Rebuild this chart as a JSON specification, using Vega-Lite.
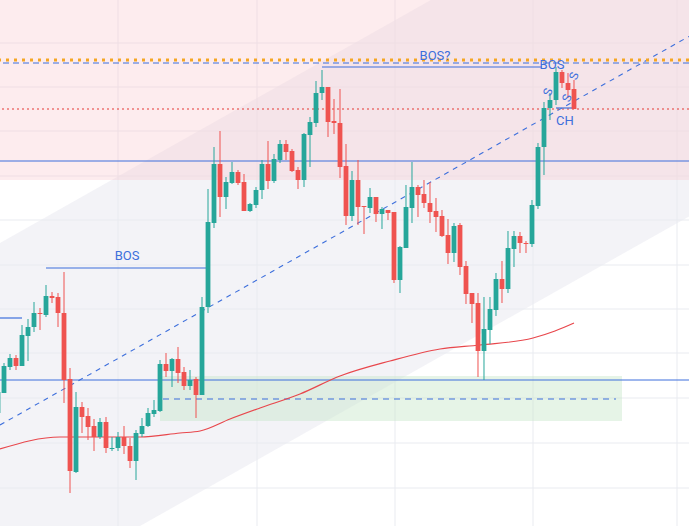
{
  "$schema": "https://vega.github.io/schema/vega-lite/v6.json",
  "width": 689,
  "height": 526,
  "padding": 0,
  "autosize": {"type": "fit", "contains": "padding"},
  "background": "white",
  "config": {"view": {"stroke": null}, "scale": {"continuousPadding": 0}},
  "datasets": {
    "candles": [
      {"i": -1, "o": 113, "h": 138, "l": 106, "c": 134},
      {"i": 0, "o": 133, "h": 163, "l": 133, "c": 160},
      {"i": 1, "o": 159, "h": 172, "l": 156, "c": 168},
      {"i": 2, "o": 168, "h": 171, "l": 156, "c": 160},
      {"i": 3, "o": 160, "h": 201, "l": 160, "c": 191},
      {"i": 4, "o": 190, "h": 207, "l": 165, "c": 199},
      {"i": 5, "o": 199, "h": 224, "l": 194, "c": 213},
      {"i": 6, "o": 213, "h": 218, "l": 196, "c": 212},
      {"i": 7, "o": 211, "h": 241, "l": 209, "c": 230},
      {"i": 8, "o": 230, "h": 234, "l": 223, "c": 228},
      {"i": 9, "o": 229, "h": 233, "l": 199, "c": 213},
      {"i": 10, "o": 213, "h": 254, "l": 123, "c": 146},
      {"i": 11, "o": 147, "h": 158, "l": 33, "c": 55},
      {"i": 12, "o": 54, "h": 134, "l": 53, "c": 119},
      {"i": 13, "o": 119, "h": 124, "l": 93, "c": 109},
      {"i": 14, "o": 110, "h": 118, "l": 86, "c": 99},
      {"i": 15, "o": 100, "h": 107, "l": 75, "c": 89},
      {"i": 16, "o": 89, "h": 108, "l": 87, "c": 104},
      {"i": 17, "o": 104, "h": 109, "l": 73, "c": 78},
      {"i": 18, "o": 77, "h": 89, "l": 75, "c": 78},
      {"i": 19, "o": 78, "h": 94, "l": 75, "c": 89},
      {"i": 20, "o": 89, "h": 100, "l": 72, "c": 80},
      {"i": 21, "o": 80, "h": 88, "l": 58, "c": 65},
      {"i": 22, "o": 65, "h": 96, "l": 46, "c": 93},
      {"i": 23, "o": 92, "h": 108, "l": 89, "c": 100},
      {"i": 24, "o": 100, "h": 118, "l": 99, "c": 113},
      {"i": 25, "o": 112, "h": 126, "l": 109, "c": 116},
      {"i": 26, "o": 115, "h": 166, "l": 114, "c": 162},
      {"i": 27, "o": 162, "h": 173, "l": 149, "c": 155},
      {"i": 28, "o": 155, "h": 168, "l": 139, "c": 167},
      {"i": 29, "o": 167, "h": 179, "l": 143, "c": 153},
      {"i": 30, "o": 154, "h": 159, "l": 136, "c": 140},
      {"i": 31, "o": 140, "h": 156, "l": 136, "c": 146},
      {"i": 32, "o": 147, "h": 149, "l": 108, "c": 131},
      {"i": 33, "o": 131, "h": 229, "l": 131, "c": 219},
      {"i": 34, "o": 219, "h": 337, "l": 213, "c": 304},
      {"i": 35, "o": 303, "h": 379, "l": 298, "c": 362},
      {"i": 36, "o": 362, "h": 395, "l": 309, "c": 329},
      {"i": 37, "o": 329, "h": 349, "l": 317, "c": 344},
      {"i": 38, "o": 343, "h": 364, "l": 342, "c": 354},
      {"i": 39, "o": 354, "h": 356, "l": 341, "c": 343},
      {"i": 40, "o": 344, "h": 352, "l": 315, "c": 315},
      {"i": 41, "o": 315, "h": 323, "l": 314, "c": 322},
      {"i": 42, "o": 321, "h": 339, "l": 318, "c": 336},
      {"i": 43, "o": 336, "h": 366, "l": 327, "c": 362},
      {"i": 44, "o": 362, "h": 385, "l": 337, "c": 345},
      {"i": 45, "o": 345, "h": 372, "l": 343, "c": 367},
      {"i": 46, "o": 366, "h": 386, "l": 363, "c": 382},
      {"i": 47, "o": 382, "h": 386, "l": 366, "c": 374},
      {"i": 48, "o": 375, "h": 377, "l": 354, "c": 355},
      {"i": 49, "o": 356, "h": 359, "l": 337, "c": 346},
      {"i": 50, "o": 346, "h": 393, "l": 339, "c": 392},
      {"i": 51, "o": 391, "h": 409, "l": 359, "c": 404},
      {"i": 52, "o": 403, "h": 445, "l": 399, "c": 433},
      {"i": 53, "o": 433, "h": 456, "l": 426, "c": 439},
      {"i": 54, "o": 439, "h": 439, "l": 389, "c": 404},
      {"i": 55, "o": 405, "h": 427, "l": 392, "c": 403},
      {"i": 56, "o": 403, "h": 437, "l": 348, "c": 359},
      {"i": 57, "o": 360, "h": 382, "l": 301, "c": 310},
      {"i": 58, "o": 310, "h": 355, "l": 305, "c": 346},
      {"i": 59, "o": 346, "h": 366, "l": 301, "c": 319},
      {"i": 60, "o": 320, "h": 320, "l": 292, "c": 319},
      {"i": 61, "o": 318, "h": 338, "l": 313, "c": 329},
      {"i": 62, "o": 329, "h": 329, "l": 304, "c": 312},
      {"i": 63, "o": 312, "h": 319, "l": 297, "c": 317},
      {"i": 64, "o": 316, "h": 316, "l": 306, "c": 313},
      {"i": 65, "o": 314, "h": 314, "l": 243, "c": 246},
      {"i": 66, "o": 246, "h": 280, "l": 233, "c": 279},
      {"i": 67, "o": 278, "h": 341, "l": 278, "c": 319},
      {"i": 68, "o": 318, "h": 364, "l": 303, "c": 339},
      {"i": 69, "o": 339, "h": 341, "l": 309, "c": 331},
      {"i": 70, "o": 332, "h": 346, "l": 318, "c": 323},
      {"i": 71, "o": 323, "h": 344, "l": 303, "c": 314},
      {"i": 72, "o": 315, "h": 328, "l": 294, "c": 309},
      {"i": 73, "o": 310, "h": 316, "l": 289, "c": 290},
      {"i": 74, "o": 291, "h": 307, "l": 262, "c": 273},
      {"i": 75, "o": 273, "h": 303, "l": 264, "c": 300},
      {"i": 76, "o": 301, "h": 303, "l": 251, "c": 259},
      {"i": 77, "o": 260, "h": 265, "l": 222, "c": 232},
      {"i": 78, "o": 233, "h": 233, "l": 203, "c": 222},
      {"i": 79, "o": 223, "h": 233, "l": 149, "c": 175},
      {"i": 80, "o": 175, "h": 229, "l": 146, "c": 197},
      {"i": 81, "o": 196, "h": 229, "l": 182, "c": 217},
      {"i": 82, "o": 216, "h": 253, "l": 210, "c": 247},
      {"i": 83, "o": 247, "h": 265, "l": 223, "c": 237},
      {"i": 84, "o": 237, "h": 295, "l": 233, "c": 278},
      {"i": 85, "o": 277, "h": 295, "l": 259, "c": 290},
      {"i": 86, "o": 290, "h": 294, "l": 273, "c": 283},
      {"i": 87, "o": 283, "h": 285, "l": 273, "c": 282},
      {"i": 88, "o": 282, "h": 326, "l": 279, "c": 321},
      {"i": 89, "o": 320, "h": 383, "l": 317, "c": 379},
      {"i": 90, "o": 379, "h": 424, "l": 351, "c": 418},
      {"i": 91, "o": 418, "h": 433, "l": 406, "c": 426},
      {"i": 92, "o": 426, "h": 459, "l": 421, "c": 454},
      {"i": 93, "o": 454, "h": 456, "l": 438, "c": 443},
      {"i": 94, "o": 443, "h": 453, "l": 428, "c": 436},
      {"i": 95, "o": 437, "h": 446, "l": 417, "c": 417}
    ],
    "ma": [
      {"i": -0.6667, "p": 77}, {"i": 9.33, "p": 89}, {"i": 22.67, "p": 89},
      {"i": 29.33, "p": 93}, {"i": 32.67, "p": 95}, {"i": 37.67, "p": 107},
      {"i": 42.67, "p": 118}, {"i": 49.33, "p": 132}, {"i": 56, "p": 150},
      {"i": 64.33, "p": 165}, {"i": 72.67, "p": 177}, {"i": 79.33, "p": 181},
      {"i": 88.17, "p": 188}, {"i": 91.83, "p": 195}, {"i": 95, "p": 203}
    ],
    "grid": [
      {"dir": "v", "v": 19}, {"dir": "v", "v": 42.17}, {"dir": "v", "v": 65.17},
      {"dir": "v", "v": 88.17}, {"dir": "v", "v": 112.17},
      {"dir": "h", "v": 483}, {"dir": "h", "v": 439}, {"dir": "h", "v": 395},
      {"dir": "h", "v": 350}, {"dir": "h", "v": 306}, {"dir": "h", "v": 261},
      {"dir": "h", "v": 217}, {"dir": "h", "v": 173}, {"dir": "h", "v": 128},
      {"dir": "h", "v": 83}, {"dir": "h", "v": 38}
    ],
    "levels": [
      {"kind": "orange", "p": 466},
      {"kind": "bluedash", "p": 463},
      {"kind": "reddot", "p": 417},
      {"kind": "blue", "p": 365},
      {"kind": "blue", "p": 146}
    ],
    "segs": [
      {"kind": "bos", "i": 53, "i2": 89.67, "p": 459},
      {"kind": "bos", "i": 7, "i2": 33.67, "p": 258},
      {"kind": "bos", "i": -0.6667, "i2": 3, "p": 208},
      {"kind": "bos", "i": 92, "i2": 95, "p": 418},
      {"kind": "gdash", "i": 26.5, "i2": 102, "p": 127}
    ],
    "zones": [
      {"kind": "pink", "i": -0.6667, "i2": 114.1667, "p": 346, "p2": 526},
      {"kind": "green", "i": 26, "i2": 103, "p": 105, "p2": 150}
    ],
    "channel": [
      {"i": -0.6667, "lo": -79, "hi": 283},
      {"i": 114.1667, "lo": 309.6, "hi": 671.6}
    ],
    "labels": [
      {"kind": "flat", "t": "BOS", "i": 20.5, "p": 270},
      {"kind": "flat", "t": "BOS?", "i": 71.83, "p": 470},
      {"kind": "flat", "t": "BOS", "i": 91.33, "p": 461},
      {"kind": "flat", "t": "CH", "i": 93.5, "p": 405},
      {"kind": "turned", "t": "S", "i": 95, "p": 450},
      {"kind": "turned", "t": "S", "i": 90.67, "p": 434},
      {"kind": "turned", "t": "S", "i": 93.83, "p": 428}
    ]
  },
  "layer": [
    {
      "data": {"name": "channel"},
      "mark": {"type": "area", "color": "#e4e5ee", "opacity": 0.45, "clip": true},
      "encoding": {
        "x": {"field": "i", "type": "quantitative", "scale": {"domain": [-0.6667, 114.1667], "nice": false, "zero": false, "padding": 0}, "axis": null},
        "y": {"field": "lo", "type": "quantitative", "scale": {"domain": [0, 526], "nice": false, "zero": false}, "axis": null},
        "y2": {"field": "hi"}
      }
    },
    {
      "data": {"name": "grid"},
      "transform": [{"filter": "datum.dir == 'v'"}],
      "mark": {"type": "rule", "color": "#e9ebf0", "strokeWidth": 1, "clip": true},
      "encoding": {
        "x": {"field": "v", "type": "quantitative", "scale": {"domain": [-0.6667, 114.1667], "nice": false, "zero": false, "padding": 0}, "axis": null}
      }
    },
    {
      "data": {"name": "grid"},
      "transform": [{"filter": "datum.dir == 'h'"}],
      "mark": {"type": "rule", "color": "#e9ebf0", "strokeWidth": 1, "clip": true},
      "encoding": {
        "y": {"field": "v", "type": "quantitative", "scale": {"domain": [0, 526], "nice": false, "zero": false}, "axis": null}
      }
    },
    {
      "data": {"name": "zones"},
      "transform": [{"filter": "datum.kind == 'pink'"}],
      "mark": {"type": "rect", "color": "#f8c8cf", "opacity": 0.35, "clip": true},
      "encoding": {
        "x": {"field": "i", "type": "quantitative", "scale": {"domain": [-0.6667, 114.1667], "nice": false, "zero": false, "padding": 0}, "axis": null},
        "x2": {"field": "i2"},
        "y": {"field": "p", "type": "quantitative", "scale": {"domain": [0, 526], "nice": false, "zero": false}, "axis": null},
        "y2": {"field": "p2"}
      }
    },
    {
      "data": {"name": "zones"},
      "transform": [{"filter": "datum.kind == 'green'"}],
      "mark": {"type": "rect", "color": "#c8e6c9", "opacity": 0.45},
      "encoding": {
        "x": {"field": "i", "type": "quantitative", "scale": {"domain": [-0.6667, 114.1667], "nice": false, "zero": false, "padding": 0}, "axis": null},
        "x2": {"field": "i2"},
        "y": {"field": "p", "type": "quantitative", "scale": {"domain": [0, 526], "nice": false, "zero": false}, "axis": null},
        "y2": {"field": "p2"}
      }
    },
    {
      "data": {"values": [{"i": -0.6667, "i2": 114.1667, "p": 101, "p2": 489.6}]},
      "mark": {"type": "rule", "color": "#3d6fdc", "strokeWidth": 1.1, "strokeDash": [5, 5], "clip": true},
      "encoding": {
        "x": {"field": "i", "type": "quantitative", "scale": {"domain": [-0.6667, 114.1667], "nice": false, "zero": false, "padding": 0}, "axis": null},
        "x2": {"field": "i2"},
        "y": {"field": "p", "type": "quantitative", "scale": {"domain": [0, 526], "nice": false, "zero": false}, "axis": null},
        "y2": {"field": "p2"}
      }
    },
    {
      "data": {"name": "levels"},
      "transform": [{"filter": "datum.kind == 'blue'"}],
      "mark": {"type": "rule", "color": "#3d6fdc", "strokeWidth": 1, "clip": true},
      "encoding": {
        "y": {"field": "p", "type": "quantitative", "scale": {"domain": [0, 526], "nice": false, "zero": false}, "axis": null}
      }
    },
    {
      "data": {"name": "levels"},
      "transform": [{"filter": "datum.kind == 'reddot'"}],
      "mark": {"type": "rule", "color": "#e53935", "strokeWidth": 1.1, "strokeDash": [2, 3], "clip": true},
      "encoding": {
        "y": {"field": "p", "type": "quantitative", "scale": {"domain": [0, 526], "nice": false, "zero": false}, "axis": null}
      }
    },
    {
      "data": {"name": "levels"},
      "transform": [{"filter": "datum.kind == 'bluedash'"}],
      "mark": {"type": "rule", "color": "#3d6fdc", "strokeWidth": 1.2, "strokeDash": [6, 4], "clip": true},
      "encoding": {
        "y": {"field": "p", "type": "quantitative", "scale": {"domain": [0, 526], "nice": false, "zero": false}, "axis": null}
      }
    },
    {
      "data": {"name": "levels"},
      "transform": [{"filter": "datum.kind == 'orange'"}],
      "mark": {"type": "rule", "color": "#f5a623", "strokeWidth": 3, "strokeDash": [3, 5], "clip": true},
      "encoding": {
        "y": {"field": "p", "type": "quantitative", "scale": {"domain": [0, 526], "nice": false, "zero": false}, "axis": null}
      }
    },
    {
      "data": {"name": "segs"},
      "transform": [{"filter": "datum.kind == 'bos'"}],
      "mark": {"type": "rule", "color": "#3d6fdc", "strokeWidth": 1.2, "clip": true},
      "encoding": {
        "x": {"field": "i", "type": "quantitative", "scale": {"domain": [-0.6667, 114.1667], "nice": false, "zero": false, "padding": 0}, "axis": null},
        "x2": {"field": "i2"},
        "y": {"field": "p", "type": "quantitative", "scale": {"domain": [0, 526], "nice": false, "zero": false}, "axis": null}
      }
    },
    {
      "data": {"name": "segs"},
      "transform": [{"filter": "datum.kind == 'gdash'"}],
      "mark": {"type": "rule", "color": "#3d6fdc", "strokeWidth": 1.1, "strokeDash": [6, 5]},
      "encoding": {
        "x": {"field": "i", "type": "quantitative", "scale": {"domain": [-0.6667, 114.1667], "nice": false, "zero": false, "padding": 0}, "axis": null},
        "x2": {"field": "i2"},
        "y": {"field": "p", "type": "quantitative", "scale": {"domain": [0, 526], "nice": false, "zero": false}, "axis": null}
      }
    },
    {
      "data": {"name": "ma"},
      "mark": {"type": "line", "color": "#e8474c", "strokeWidth": 1.2, "interpolate": "monotone", "clip": true},
      "encoding": {
        "x": {"field": "i", "type": "quantitative", "scale": {"domain": [-0.6667, 114.1667], "nice": false, "zero": false, "padding": 0}, "axis": null},
        "y": {"field": "p", "type": "quantitative", "scale": {"domain": [0, 526], "nice": false, "zero": false}, "axis": null}
      }
    },
    {
      "data": {"name": "candles"},
      "mark": {"type": "rule", "strokeWidth": 1, "clip": true},
      "encoding": {
        "x": {"field": "i", "type": "quantitative", "scale": {"domain": [-0.6667, 114.1667], "nice": false, "zero": false, "padding": 0}, "axis": null},
        "y": {"field": "l", "type": "quantitative", "scale": {"domain": [0, 526], "nice": false, "zero": false}, "axis": null},
        "y2": {"field": "h"},
        "color": {"condition": {"test": "datum.c >= datum.o", "value": "#26a69a"}, "value": "#ef5350"}
      }
    },
    {
      "data": {"name": "candles"},
      "mark": {"type": "bar", "size": 4.8, "clip": true},
      "encoding": {
        "x": {"field": "i", "type": "quantitative", "scale": {"domain": [-0.6667, 114.1667], "nice": false, "zero": false, "padding": 0}, "axis": null},
        "y": {"field": "o", "type": "quantitative", "scale": {"domain": [0, 526], "nice": false, "zero": false}, "axis": null},
        "y2": {"field": "c"},
        "color": {"condition": {"test": "datum.c >= datum.o", "value": "#26a69a"}, "value": "#ef5350"}
      }
    },
    {
      "data": {"name": "labels"},
      "transform": [{"filter": "datum.kind == 'flat'"}],
      "mark": {"type": "text", "color": "#3d6fdc", "font": "Roboto", "fontSize": 13, "baseline": "middle", "align": "center"},
      "encoding": {
        "x": {"field": "i", "type": "quantitative", "scale": {"domain": [-0.6667, 114.1667], "nice": false, "zero": false, "padding": 0}, "axis": null},
        "y": {"field": "p", "type": "quantitative", "scale": {"domain": [0, 526], "nice": false, "zero": false}, "axis": null},
        "text": {"field": "t"}
      }
    },
    {
      "data": {"name": "labels"},
      "transform": [{"filter": "datum.kind == 'turned'"}],
      "mark": {"type": "text", "color": "#3d6fdc", "font": "Roboto", "fontSize": 12, "angle": 290, "baseline": "middle", "align": "center"},
      "encoding": {
        "x": {"field": "i", "type": "quantitative", "scale": {"domain": [-0.6667, 114.1667], "nice": false, "zero": false, "padding": 0}, "axis": null},
        "y": {"field": "p", "type": "quantitative", "scale": {"domain": [0, 526], "nice": false, "zero": false}, "axis": null},
        "text": {"field": "t"}
      }
    }
  ]
}
